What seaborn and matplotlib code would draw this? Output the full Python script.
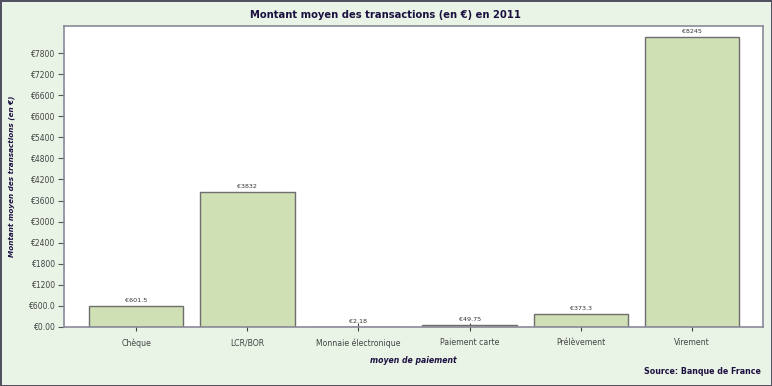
import matplotlib
matplotlib.use('Agg')
import matplotlib.pyplot as plt
import seaborn as sns
import pandas as pd

categories = ['Chèque', 'LCR/BOR', 'Monnaie électronique', 'Paiement carte', 'Prélèvement', 'Virement']
values = [601.5, 3832, 2.18, 49.75, 373.3, 8245]
value_labels = ['€601.5', '€3832', '€2.18', '€49.75', '€373.3', '€8245']
ytick_values = [0, 600, 1200, 1800, 2400, 3000, 3600, 4200, 4800, 5400, 6000, 6600, 7200, 7800]
ytick_labels = ['€0.00', '€600.0', '€1200', '€1800', '€2400', '€3000', '€3600', '€4200',
                '€4800', '€5400', '€6000', '€6600', '€7200', '€7800']

df = pd.DataFrame({'moyen': categories, 'montant': values})

sns.set_style('white')
plt.rcParams['font.family'] = ['DejaVu Sans']

bg = '#e9f3e6'
dark = '#1c1040'
fig = plt.figure(figsize=(7.72, 3.86), dpi=100, facecolor=bg,
                 edgecolor='#505060', linewidth=2)
ax = fig.add_axes([64 / 772, 1 - 327 / 386, 699 / 772, 301 / 386])

sns.barplot(data=df, x='moyen', y='montant', color='#cfe0b5', width=0.85,
            edgecolor='#6e6e6e', linewidth=1, saturation=1, ax=ax)

for i, (v, lab) in enumerate(zip(values, value_labels)):
    ax.text(i, v + 90, lab, ha='center', va='bottom', fontsize=4.6, color='#333333')

ax.set_xlim(-0.65, 5.64)
ax.set_ylim(0, 8570)
ax.set_yticks(ytick_values)
ax.set_yticklabels(ytick_labels, fontsize=5.5, color='#444444')
ax.tick_params(axis='y', length=4, width=0.8, color='#555555', left=True, pad=2)
ax.tick_params(axis='x', labelsize=5.6, colors='#444444', bottom=True, direction='inout',
               length=6, width=0.8, pad=5)
for s in ax.spines.values():
    s.set_color('#8a8a9a')
    s.set_linewidth(1.2)
ax.set_facecolor('white')

ax.set_xlabel('moyen de paiement', fontsize=5.6, fontstyle='italic', fontweight='bold',
              color=dark)
ax.xaxis.set_label_coords(0.5, -(356 - 327) / 301)
ax.set_ylabel('Montant moyen des transactions (en €)', fontsize=5.2, fontstyle='italic',
              fontweight='bold', color=dark)
ax.yaxis.set_label_coords(-(64 - 15) / 699, 0.5)

fig.text(0.5, 1 - 15 / 386, 'Montant moyen des transactions (en €) en 2011', ha='center',
         va='center', fontsize=7.2, fontweight='bold', color=dark)
fig.text(1 - 11 / 772, 1 - 372 / 386, 'Source: Banque de France', ha='right', va='center',
         fontsize=5.7, fontweight='bold', color=dark)

fig.savefig('out.png', dpi=100, facecolor=bg, edgecolor='#505060')
